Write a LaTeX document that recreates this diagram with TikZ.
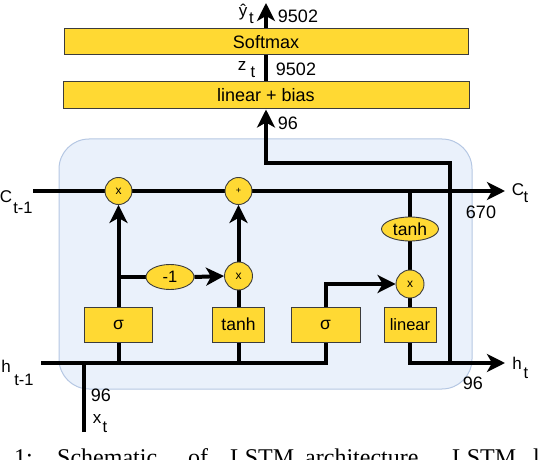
\documentclass[tikz,border=0pt]{standalone}
\usepackage{fontspec}
\setmainfont{Liberation Sans}
\newfontfamily\capfont{Liberation Serif}
\usetikzlibrary{arrows.meta,shapes.geometric}
\definecolor{gold}{RGB}{255,217,51}
\definecolor{boxline}{RGB}{60,60,60}
\definecolor{cellfill}{RGB}{234,241,251}
\definecolor{cellline}{RGB}{181,199,227}
\pgfdeclarelayer{cellbg}
\pgfdeclarelayer{wires}
\pgfsetlayers{cellbg,wires,main}
\newcommand{\fsz}[1]{\fontsize{#1}{#1}\selectfont}
\begin{document}
\begin{tikzpicture}[x=1pt,y=-1pt,
  wire/.style={line width=4pt,draw=black},
  arr/.style={wire,-{Stealth[length=18pt,width=18pt,inset=5pt]}},
  bar/.style={rectangle,draw=boxline,fill=gold,line width=1pt,inner sep=0pt,font=\fsz{18}},
  gatebox/.style={rectangle,draw=boxline,fill=gold,line width=1pt,inner sep=0pt,minimum height=35pt,font=\fsz{17.5}},
  op/.style={circle,draw=boxline,fill=gold,line width=0.9pt,inner sep=0pt,minimum size=27pt,font=\fsz{12}},
  oval/.style={ellipse,draw=boxline,fill=gold,line width=0.9pt,inner sep=0pt,font=\fsz{17.5}},
  cell/.style={draw=cellline,fill=cellfill,line width=1pt,rounded corners=30pt},
  lbl/.style={inner sep=0pt,font=\fsz{17}},
  sub/.style={inner sep=0pt,font=\fsz{16.5}},
  num/.style={inner sep=0pt,font=\fsz{18}},
  capw/.style={anchor=base west,inner sep=0pt,font=\capfont\fsz{24}}]
\useasboundingbox (0,0) rectangle (542,460);

% top layers
\node[bar,minimum width=404pt,minimum height=26pt] (sm) at (266,42) {Softmax};
\node[bar,minimum width=406pt,minimum height=27pt] (lb) at (266,95.5) {linear + bias};

% gate boxes
\node[gatebox,minimum width=68pt] (s1) at (118.5,324.5) {σ};
\node[gatebox,minimum width=52pt] (tb) at (238.5,324.5) {tanh};
\node[gatebox,minimum width=69pt] (s3) at (325.5,324.5) {σ};
\node[gatebox,minimum width=52pt,font=\fsz{16.5}] (lin) at (410,324.5) {linear};

% pointwise ops
\node[op] (m1) at (118.5,191) {x};
\node[op,font=\fsz{9}] (pl) at (238.5,191) {+};
\node[op,minimum size=28pt] (m2) at (238.5,276) {x};
\node[op,minimum size=28pt] (m3) at (410,284) {x};
\node[oval,minimum width=48pt,minimum height=25pt,font=\fsz{16.5}] (neg) at (170,277) {-1};
\node[oval,minimum width=57pt,minimum height=24pt] (th) at (410,229) {tanh};

% free ends
\coordinate (cin) at (33,191);
\coordinate (cout) at (505,191);
\coordinate (hin) at (41,363);
\coordinate (hout) at (505,363);
\coordinate (xin) at (84,432);
\coordinate (turn) at (450,163);
\coordinate (yhat) at (266,3);

\begin{pgfonlayer}{cellbg}
\draw[cell] (59,139) rectangle (472,389);
\end{pgfonlayer}

\begin{pgfonlayer}{wires}
\draw[arr] (cin) -- (cout);
\draw[wire] (th.north |- cin) -- (th.north);
\draw[wire] (th.south) -- (m3.north);
\draw[wire] (lin.north) -- (m3.south);
\draw[arr] (s1.north) -- (m1.south);
\draw[wire] (s1.north |- neg) -- (neg.west);
\draw[arr] (neg.east) -- (m2.west);
\draw[wire] (tb.north) -- (m2.south);
\draw[arr] (m2.north) -- (pl.south);
\draw[arr] (s3.north) |- (m3.west);
\draw[wire] (hin) -| (s3.south);
\draw[wire] (s1.south) -- (s1.south |- hin);
\draw[wire] (tb.south) -- (tb.south |- hin);
\draw[wire] (xin) -- (xin |- hin);
\draw[arr] (lin.south) |- (hout);
\draw[arr] (turn |- hout) -- (turn) -| (lb.south);
\draw[wire] (lb.north) -- (sm.south);
\draw[arr] (sm.north) -- (yhat);
\end{pgfonlayer}

% labels
\node[lbl] (yh) at (243,12) {ŷ};
\node[sub] (yht) at (251.5,18) {t};
\node[num] (n1) at (298,16) {9502};
\node[lbl] (zz) at (242,66) {z};
\node[sub] (zt) at (253,72) {t};
\node[num] (n2) at (296,69) {9502};
\node[num] (n3) at (288,123) {96};
\node[lbl] (cl) at (6,197) {C};
\node[sub] (clt) at (23,208) {t-1};
\node[lbl] (cr) at (518,190) {C};
\node[sub] (crt) at (526,197) {t};
\node[num] (n4) at (481,212) {670};
\node[lbl] (hl) at (6,366) {h};
\node[sub] (hlt) at (24,380) {t-1};
\node[lbl] (hr) at (517,363) {h};
\node[sub] (hrt) at (526,373) {t};
\node[num] (n5) at (473,383) {96};
\node[num] (n6) at (101,395) {96};
\node[lbl] (xl) at (97,419) {x};
\node[sub] (xlt) at (105,427) {t};

% caption, cut off at the lower edge as in the reference
\begin{scope}
\clip (0,440) rectangle (542,460);
\node[capw] (c1) at (14,465) {1:};
\node[capw] (c2) at (57,465) {Schematic};
\node[capw] (c3) at (188,465) {of};
\node[capw] (c4) at (230,465) {LSTM};
\node[capw] (c5) at (305,465) {architecture.};
\node[capw] (c6) at (452,465) {LSTM};
\node[capw] (c7) at (533,465) {l};
\end{scope}
\end{tikzpicture}
\end{document}
